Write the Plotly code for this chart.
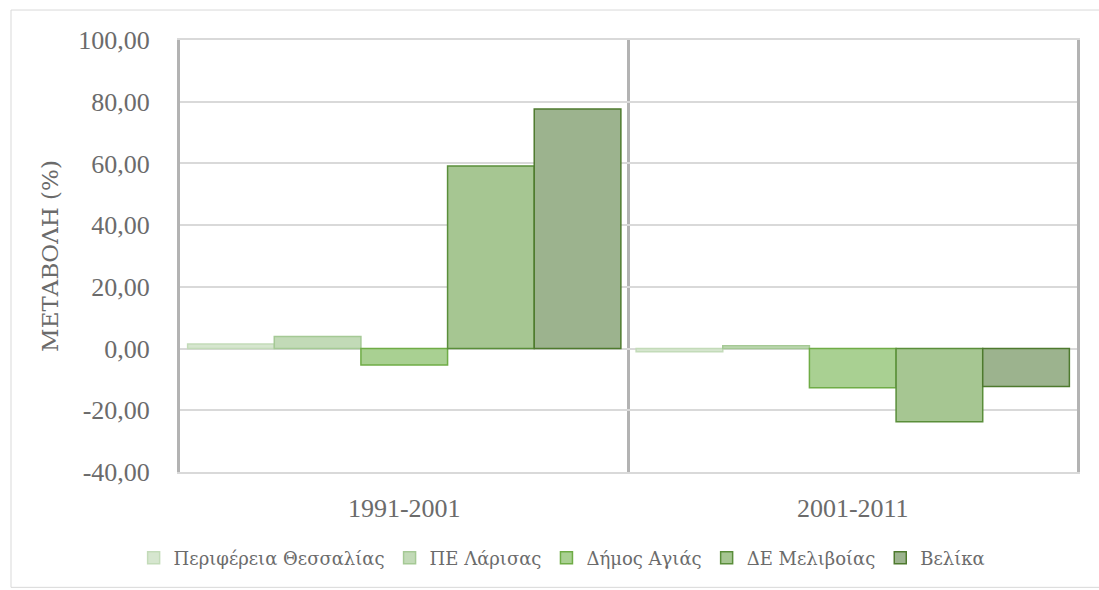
import plotly.graph_objects as go

categories = ["1991-2001", "2001-2011"]
series_names = ["Περιφέρεια Θεσσαλίας", "ΠΕ Λάρισας", "Δήμος Αγιάς", "ΔΕ Μελιβοίας", "Βελίκα"]
thessalia = [1.5, -1.0]
larisa = [3.9, 0.9]
agia = [-5.3, -12.7]
melivoia = [59.2, -23.7]
velika = [77.6, -12.3]
values = [thessalia, larisa, agia, melivoia, velika]

fill_colors = ["#d6e6cf", "#c2dab7", "#a9d092", "#a6c692", "#9cb38e"]
line_colors = ["#c3dbb9", "#a5c995", "#6fac46", "#5a8e3a", "#4e7a2e"]

tick_vals = [-40, -20, 0, 20, 40, 60, 80, 100]
tick_text = ["-40,00", "-20,00", "0,00", "20,00", "40,00", "60,00", "80,00", "100,00"]

fig = go.Figure()
for name, vals, fc, lc in zip(series_names, values, fill_colors, line_colors):
    fig.add_trace(go.Bar(
        x=categories, y=vals, name=name,
        marker=dict(color=fc, line=dict(color=lc, width=1.5)),
    ))

font_family = "Liberation Serif, serif"
greek_font = "DejaVu Serif, serif"
gray = "#6b6b6b"

fig.update_layout(
    width=1099, height=590,
    margin=dict(l=180, r=22, t=40, b=118, autoexpand=False),
    paper_bgcolor="white", plot_bgcolor="white",
    barmode="group", bargap=0.034, bargroupgap=0,
    font=dict(family=font_family, color=gray),
    showlegend=True,
    legend=dict(orientation="h", x=0.426, xanchor="center", y=-0.199, yanchor="middle",
                font=dict(size=18, family=greek_font, color=gray),
                itemwidth=30, traceorder="normal"),
    xaxis=dict(
        type="category", tickson="boundaries", ticks="",
        showgrid=True, gridcolor="#b3b3b3", gridwidth=3,
        showline=True, linecolor="#d9d9d9", linewidth=2, mirror=True,
        tickfont=dict(size=26, family=font_family, color=gray),
        ticklabelstandoff=12,
        zeroline=False,
    ),
    yaxis=dict(
        range=[-40, 100], tickvals=tick_vals, ticktext=tick_text,
        showgrid=True, gridcolor="#d9d9d9", gridwidth=2,
        zeroline=True, zerolinecolor="#d9d9d9", zerolinewidth=2,
        showline=True, linecolor="#b3b3b3", linewidth=3, mirror=True,
        tickfont=dict(size=26, family=font_family, color=gray),
        ticks="", ticklen=0, ticklabelstandoff=22,
        title=dict(text="ΜΕΤΑΒΟΛΗ (%)", font=dict(size=23, family=greek_font, color=gray), standoff=14),
    ),
    shapes=[dict(type="rect", xref="paper", yref="paper",
                 x0=-0.1884, x1=1.05, y0=-0.267, y1=1.0694,
                 line=dict(color="#d9d9d9", width=1), fillcolor="rgba(0,0,0,0)", layer="below")],
)

fig.write_html("out.html", post_script="document.body.style.margin='0';",
               config={"displayModeBar": False})
